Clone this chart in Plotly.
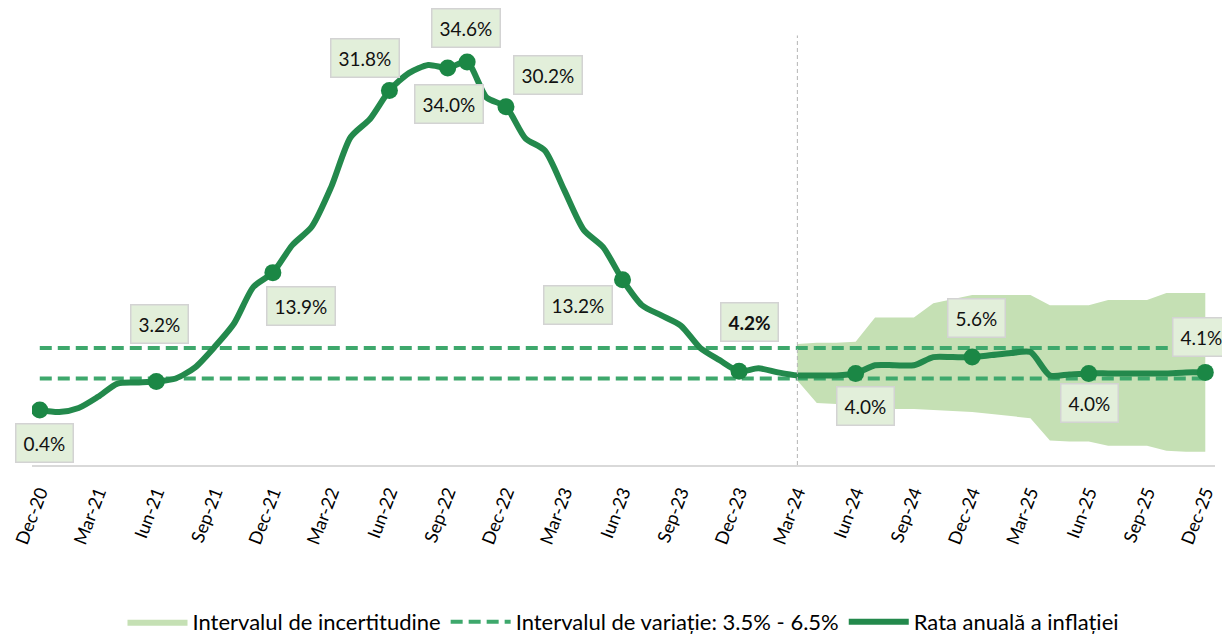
import plotly.graph_objects as go

# ---------------- data ----------------
ro_months = ["Ian", "Feb", "Mar", "Apr", "Mai", "Iun", "Iul", "Aug", "Sep", "Oct", "Noi", "Dec"]
months = ["Dec-20"] + [f"{m}-{y}" for y in range(21, 26) for m in ro_months]

inflation = [
    0.4,
    0.2, 0.6, 1.7, 3.0, 3.1, 3.2, 3.5, 4.6, 6.6, 8.9, 12.5, 13.9,
    16.6, 18.4, 22.3, 27.2, 29.0, 31.8, 33.5, 34.3, 34.0, 34.6, 31.1, 30.2,
    27.1, 25.9, 22.0, 18.1, 16.4, 13.2, 10.7, 9.7, 8.7, 6.5, 5.3, 4.2,
    4.5, 4.1, 3.8, 3.8, 3.8, 4.0, 4.8, 4.8, 4.8, 5.6, 5.6, 5.6,
    5.8, 6.0, 6.1, 3.8, 3.9, 4.0, 4.0, 4.0, 4.0, 4.0, 4.1, 4.1,
]

band_months = months[months.index("Mar-24"):]
band_upper = [6.9, 7.0, 7.0, 7.1, 9.5, 9.5, 9.5, 10.9, 11.3, 11.7,
              11.7, 11.7, 11.7, 10.7, 10.7, 10.7, 11.2, 11.2, 11.2, 11.9, 11.9, 11.9]
band_lower = [3.3, 1.1, 1.0, 0.9, 0.6, 0.5, 0.5, 0.4, 0.3, 0.2,
              0.0, -0.2, -0.4, -2.6, -2.7, -2.7, -3.1, -3.1, -3.1, -3.6, -3.7, -3.7]

target_low, target_high = 3.5, 6.5
tick_labels = months[::3]

# labelled points: month, text, x shift (px), y shift (px), bold
labels = [
    ("Dec-20", "0.4%", 5, -33, False),
    ("Iun-21", "3.2%", 3, 58, False),
    ("Dec-21", "13.9%", 28, -33, False),
    ("Iun-22", "31.8%", -24, 32, False),
    ("Sep-22", "34.0%", 1, -36, False),
    ("Oct-22", "34.6%", -1, 34, False),
    ("Dec-22", "30.2%", 42, 32, False),
    ("Iun-23", "13.2%", -45, -25, False),
    ("Dec-23", "4.2%", 10, 49, True),
    ("Iun-24", "4.0%", 10, -33, False),
    ("Dec-24", "5.6%", 4, 39, False),
    ("Iun-25", "4.0%", 1, -30, False),
    ("Dec-25", "4.1%", -4, 35, False),
]

FONT = "Lato, 'Liberation Sans', sans-serif"
LINE_GREEN = "#23894c"
DASH_GREEN = "#3ea86c"
BAND_GREEN = "#c5e0b4"

fig = go.Figure()

# uncertainty band
fig.add_trace(go.Scatter(x=band_months, y=band_lower, mode="lines",
                         line=dict(width=0, color=BAND_GREEN),
                         showlegend=False, hoverinfo="skip"))
fig.add_trace(go.Scatter(x=band_months, y=band_upper, mode="lines",
                         line=dict(width=0, color=BAND_GREEN),
                         fill="tonexty", fillcolor=BAND_GREEN,
                         name="Intervalul de incertitudine"))

# target corridor
fig.add_trace(go.Scatter(x=[months[0], months[-1]], y=[target_high, target_high],
                         mode="lines", line=dict(color=DASH_GREEN, width=4, dash="12px,6px"),
                         name="Intervalul de variație: 3.5% - 6.5%"))
fig.add_trace(go.Scatter(x=[months[0], months[-1]], y=[target_low, target_low],
                         mode="lines", line=dict(color=DASH_GREEN, width=4, dash="12px,6px"),
                         showlegend=False))

# inflation line
fig.add_trace(go.Scatter(x=months, y=inflation, mode="lines",
                         line=dict(color=LINE_GREEN, width=6, shape="spline", smoothing=0.7),
                         name="Rata anuală a inflației"))

# big markers on labelled points
lab_x = [l[0] for l in labels]
lab_y = [inflation[months.index(m)] for m in lab_x]
fig.add_trace(go.Scatter(x=lab_x, y=lab_y, mode="markers",
                         marker=dict(color="#1b8745", size=17),
                         showlegend=False))

# forecast start line
fig.add_shape(type="line", x0="Mar-24", x1="Mar-24", y0=-5, y1=37.2,
              xref="x", yref="y", line=dict(color="#b4b4b4", width=1, dash="4px,3px"))

for (m, txt, dx, dy, bold) in labels:
    fig.add_annotation(x=m, y=inflation[months.index(m)],
                       text=f"<b>{txt}</b>" if bold else txt,
                       showarrow=False, xshift=dx, yshift=dy,
                       bgcolor="#e2efda", bordercolor="#d3d3d3", borderwidth=1.5,
                       borderpad=7, font=dict(family=FONT, size=19, color="#111111"))

fig.update_layout(
    width=1222, height=627,
    margin=dict(l=24, r=15, t=1, b=170, autoexpand=False),
    paper_bgcolor="white", plot_bgcolor="white",
    font=dict(family=FONT, color="#000000"),
    xaxis=dict(type="category", categoryorder="array", categoryarray=months,
               range=[-0.4, 60.5], tickmode="array", tickvals=tick_labels,
               ticktext=tick_labels, tickangle=-69, ticks="", automargin=False,
               tickfont=dict(family=FONT, size=18, color="#000000"),
               showgrid=False, zeroline=False, showline=True,
               linecolor="#d9d9d9", linewidth=2, ticklabelstandoff=8),
    yaxis=dict(range=[-5, 39.8], visible=False, showgrid=False, zeroline=False,
               automargin=False),
    legend=dict(orientation="h", x=0.5, xanchor="center", y=-0.344, yanchor="middle",
                traceorder="normal",
                font=dict(family=FONT, size=22, color="#000000"),
                itemwidth=60, bgcolor="rgba(0,0,0,0)"),
    showlegend=True,
)

fig.write_html("out.html")
